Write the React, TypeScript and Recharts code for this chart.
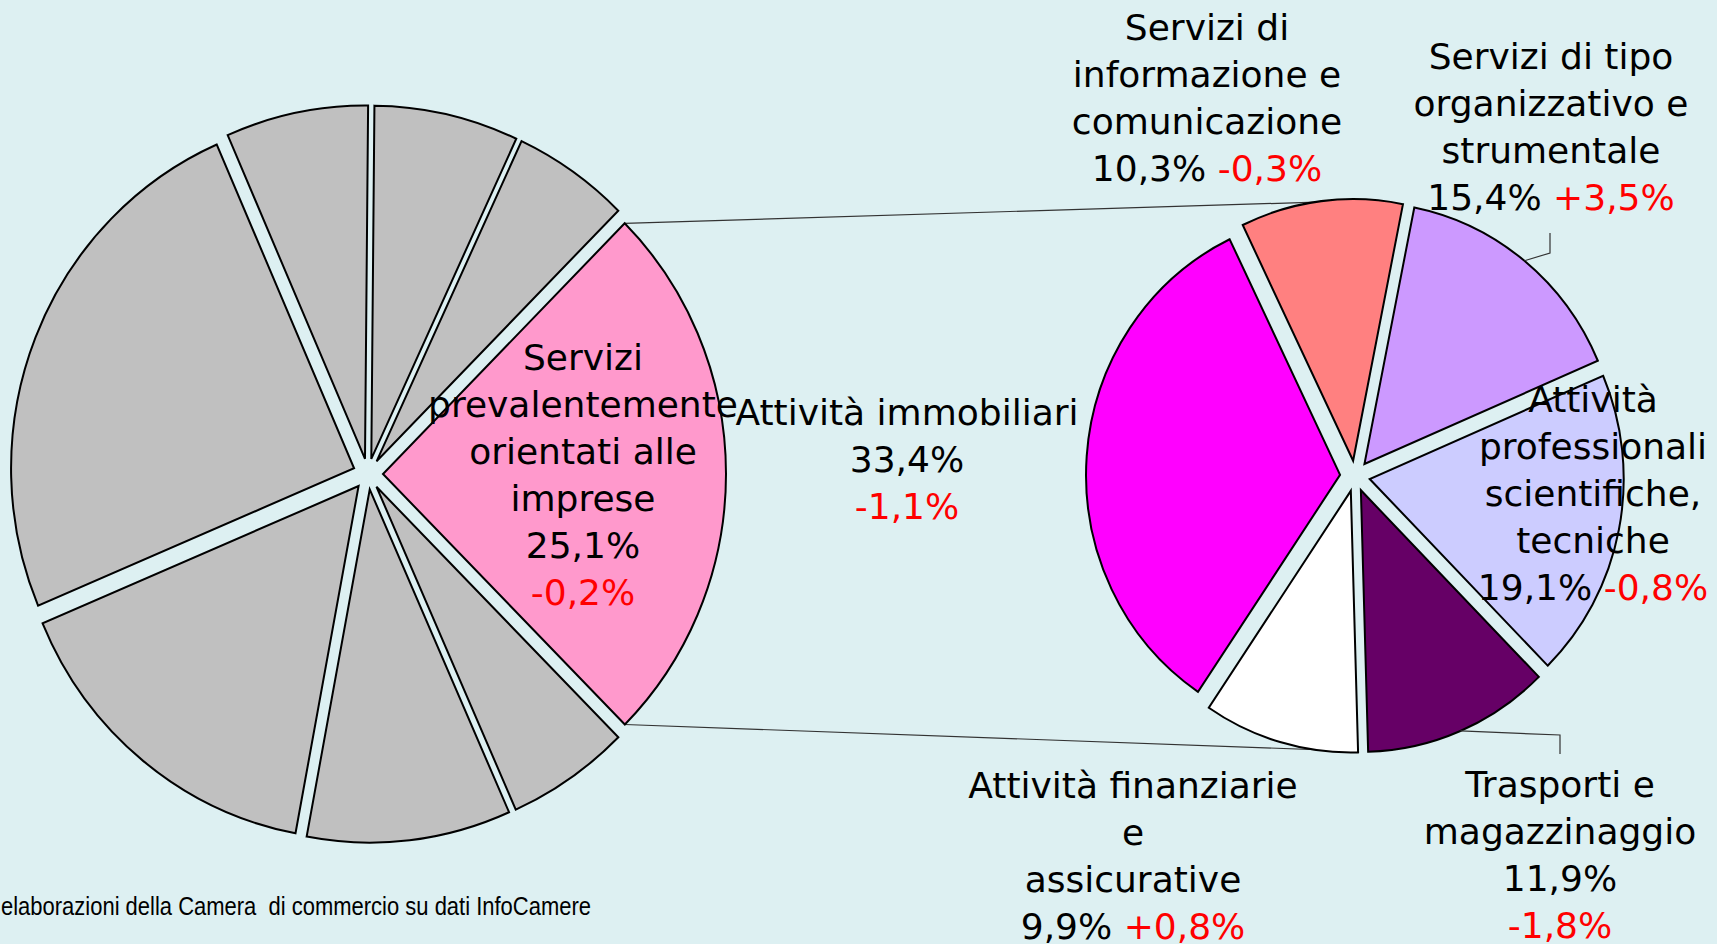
import React from 'react';
import { PieChart, Pie, Cell, Sector } from 'recharts';

// grafico principale: la prima fetta è quella esplosa nel grafico di destra
const mainNames = [
  'Servizi\nprevalentemente\norientati alle\nimprese',
  'Altro settore 1',
  'Altro settore 2',
  'Altro settore 3',
  'Altro settore 4',
  'Altro settore 5',
  'Altro settore 6',
  'Altro settore 7',
];
const mainShares = [25.1, 5.8, 9.6, 15.7, 24.8, 6.7, 6.8, 5.5];
const mainChanges = [-0.2, null, null, null, null, null, null, null];

// dettaglio dei servizi alle imprese
const detailNames = [
  'Attività immobiliari',
  'Servizi di\ninformazione e\ncomunicazione',
  'Servizi di tipo\norganizzativo e\nstrumentale',
  'Attività\nprofessionali\nscientifiche,\ntecniche',
  'Trasporti e\nmagazzinaggio',
  'Attività finanziarie\ne\nassicurative',
];
const detailShares = [33.4, 10.3, 15.4, 19.1, 11.9, 9.9];
const detailChanges = [-1.1, -0.3, 3.5, -0.8, -1.8, 0.8];

const footerText = 'elaborazioni della Camera  di commercio su dati InfoCamere';

const mainColors = ['#FF99CC', '#C0C0C0', '#C0C0C0', '#C0C0C0', '#C0C0C0', '#C0C0C0', '#C0C0C0', '#C0C0C0'];
const detailColors = ['#FF00FF', '#FF8080', '#CC99FF', '#CCCCFF', '#660066', '#FFFFFF'];

const W = 1717;
const H = 944;
const BG = '#DDF0F2';
const LEFT = { cx: 368, cy: 474, r: 343, start: 45.2 };
const RIGHT = { cx: 1355, cy: 476, r: 254, start: 236 };
const EXPLODE = 15;
const SY = 1.03; // le torte dell'originale sono leggermente ovali
const FONT = '"DejaVu Sans", Verdana, sans-serif';
const FONT_SIZE = 36;
const LINE_H = 47;
const RAD = Math.PI / 180;

// posizioni delle etichette (centro testo, baseline prima riga)
const mainLabelPos: any[] = [{ x: 583, y: 370, inline: false }];
const detailLabelPos: any[] = [
  { x: 907, y: 425, inline: false },
  { x: 1207, y: 40, inline: true },
  { x: 1551, y: 69, inline: true, leader: { elbow: [1550, 253], end: [1550, 233] } },
  { x: 1593, y: 412, inline: true },
  { x: 1560, y: 797, inline: false, leader: { elbow: [1560, 735], end: [1560, 754] } },
  { x: 1133, y: 798, inline: true },
];

const mainData = mainNames.map((name, i) => ({ name, value: mainShares[i], split: i === 0 }));
const detailData = detailNames.map((name, i) => ({ name, value: detailShares[i] }));

const fmtPct = (v: number) => v.toFixed(1).replace('.', ',') + '%';
const fmtChange = (v: number) => (v > 0 ? '+' : '') + fmtPct(v);

const polar = (cx: number, cy: number, r: number, a: number) => ({
  x: cx + r * Math.cos(-a * RAD),
  y: cy + r * Math.sin(-a * RAD),
});
const squash = (y: number, cy: number) => cy + (y - cy) * SY;

function ExplodedSector(props: any) {
  const mid = props.midAngle ?? (props.startAngle + props.endAngle) / 2;
  const off = polar(0, 0, EXPLODE, mid);
  const cx = props.cx + off.x;
  const cy = props.cy + off.y;
  let connectors = null;
  if (props.payload && props.payload.split) {
    const a = polar(cx, cy, props.outerRadius, props.startAngle);
    const b = polar(cx, cy, props.outerRadius, props.endAngle);
    const top = a.y < b.y ? a : b;
    const bottom = a.y < b.y ? b : a;
    connectors = (
      <g stroke="#333" strokeWidth={1.2}>
        <line
          x1={top.x}
          y1={squash(top.y, props.cy)}
          x2={RIGHT.cx}
          y2={RIGHT.cy - (RIGHT.r + EXPLODE) * SY + 2}
        />
        <line
          x1={bottom.x}
          y1={squash(bottom.y, props.cy)}
          x2={RIGHT.cx}
          y2={RIGHT.cy + (RIGHT.r + EXPLODE) * SY - 2}
        />
      </g>
    );
  }
  return (
    <g>
      {connectors}
      <g transform={`translate(0 ${props.cy}) scale(1 ${SY}) translate(0 ${-props.cy})`}>
        <Sector
          cx={cx}
          cy={cy}
          innerRadius={0}
          outerRadius={props.outerRadius}
          startAngle={props.startAngle}
          endAngle={props.endAngle}
          fill={props.fill}
          stroke="#000"
          strokeWidth={2}
        />
      </g>
    </g>
  );
}

function makeLabel(names: string[], shares: number[], changes: (number | null)[], layout: any[]) {
  return (props: any) => {
    const i = props.index;
    const pos = layout[i];
    if (!pos) return <g />;
    const lines = names[i].split('\n');
    const share = fmtPct(shares[i]);
    const ch = changes[i];
    const rows: React.ReactNode[] = lines.map((l, k) => (
      <tspan key={'n' + k} x={pos.x} dy={k === 0 ? 0 : LINE_H}>
        {l}
      </tspan>
    ));
    if (ch != null && pos.inline) {
      rows.push(
        <tspan key="s" x={pos.x} dy={LINE_H}>
          {share + ' '}
          <tspan fill="#FF0000">{fmtChange(ch)}</tspan>
        </tspan>
      );
    } else {
      rows.push(
        <tspan key="s" x={pos.x} dy={LINE_H}>
          {share}
        </tspan>
      );
      if (ch != null) {
        rows.push(
          <tspan key="c" x={pos.x} dy={LINE_H} fill="#FF0000">
            {fmtChange(ch)}
          </tspan>
        );
      }
    }
    let leader = null;
    if (pos.leader) {
      const p = polar(props.cx, props.cy, props.outerRadius + EXPLODE, props.midAngle);
      const { elbow, end } = pos.leader;
      leader = (
        <polyline
          points={`${p.x},${squash(p.y, props.cy)} ${elbow[0]},${elbow[1]} ${end[0]},${end[1]}`}
          fill="none"
          stroke="#333"
          strokeWidth={1.2}
        />
      );
    }
    return (
      <g>
        {leader}
        <text
          x={pos.x}
          y={pos.y}
          textAnchor="middle"
          fontFamily={FONT}
          fontSize={FONT_SIZE}
          fill="#000"
          stroke="none"
        >
          {rows}
        </text>
      </g>
    );
  };
}

export default function App() {
  return (
    <div style={{ position: 'absolute', left: 0, top: 0, width: W, height: H, background: BG, overflow: 'hidden' }}>
      <PieChart width={W} height={H} margin={{ top: 0, right: 0, bottom: 0, left: 0 }}>
        <Pie
          data={mainData}
          dataKey="value"
          nameKey="name"
          cx={LEFT.cx}
          cy={LEFT.cy}
          outerRadius={LEFT.r}
          startAngle={LEFT.start}
          endAngle={LEFT.start - 360}
          stroke="#000"
          strokeWidth={2}
          shape={ExplodedSector}
          activeShape={ExplodedSector}
          inactiveShape={ExplodedSector}
          labelLine={false}
          label={makeLabel(mainNames, mainShares, mainChanges, mainLabelPos)}
          isAnimationActive={false}
        >
          {mainData.map((d, i) => (
            <Cell key={d.name} fill={mainColors[i]} />
          ))}
        </Pie>
        <Pie
          data={detailData}
          dataKey="value"
          nameKey="name"
          cx={RIGHT.cx}
          cy={RIGHT.cy}
          outerRadius={RIGHT.r}
          startAngle={RIGHT.start}
          endAngle={RIGHT.start - 360}
          stroke="#000"
          strokeWidth={2}
          shape={ExplodedSector}
          activeShape={ExplodedSector}
          inactiveShape={ExplodedSector}
          labelLine={false}
          label={makeLabel(detailNames, detailShares, detailChanges, detailLabelPos)}
          isAnimationActive={false}
        >
          {detailData.map((d, i) => (
            <Cell key={d.name} fill={detailColors[i]} />
          ))}
        </Pie>
      </PieChart>
      <svg width={W} height={H} style={{ position: 'absolute', left: 0, top: 0, pointerEvents: 'none' }}>
        <text
          x={1}
          y={915}
          fontFamily='"Liberation Sans", Arial, sans-serif'
          fontSize={25}
          fill="#000"
          textLength={590}
          lengthAdjust="spacingAndGlyphs"
          style={{ whiteSpace: 'pre' }}
        >
          {footerText}
        </text>
      </svg>
    </div>
  );
}
